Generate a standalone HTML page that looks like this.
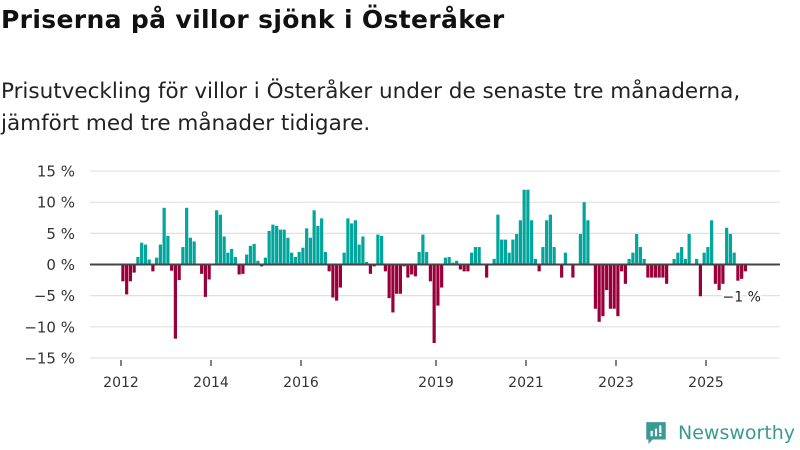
<!DOCTYPE html>
<html><head><meta charset="utf-8">
<style>
body{margin:0;width:800px;height:450px;background:#fff;font-family:"DejaVu Sans","Liberation Sans",sans-serif;overflow:hidden;position:relative}
.title{position:absolute;left:1px;top:5px;font-size:25px;font-weight:bold;color:#111;letter-spacing:0.35px}
.sub{position:absolute;left:1px;top:76px;font-size:21.5px;line-height:32px;color:#222;letter-spacing:0px}
svg{position:absolute;left:0;top:0}
</style></head><body>
<div class="title">Priserna på villor sjönk i Österåker</div>
<div class="sub">Prisutveckling för villor i Österåker under de senaste tre månaderna,<br>jämfört med tre månader tidigare.</div>
<svg id="chart" width="800" height="450"></svg>
<div style="position:absolute;left:644px;top:420px;display:flex;align-items:center;color:#3a9a92;font-size:19px">
<svg width="24" height="26" style="position:static;margin-right:10px" viewBox="0 0 22 24"><path d="M2 2h18v16H8l-4 4v-4H2z" fill="#3a9a92"/><rect x="6" y="10" width="2" height="5" fill="#fff"/><rect x="10" y="8" width="2" height="7" fill="#fff"/><rect x="14" y="5" width="2" height="7" fill="#fff"/><rect x="14" y="13" width="2" height="2" fill="#fff"/></svg>Newsworthy</div>
<script>
const values=[-2.7,-4.8,-2.7,-1.3,1.2,3.5,3.2,0.8,-1.1,1.1,3.2,9.1,4.6,-1.0,-11.9,-2.5,2.8,9.1,4.3,3.7,0,-1.5,-5.2,-2.4,0,8.7,8.0,4.5,1.9,2.5,1.2,-1.6,-1.5,1.6,3.0,3.3,0.6,-0.3,1.1,5.4,6.4,6.2,5.6,5.6,4.3,1.9,1.2,2.0,2.7,5.8,4.3,8.7,6.2,7.4,2.0,-1.1,-5.3,-5.8,-3.7,1.9,7.4,6.6,7.1,3.2,4.5,0.4,-1.5,-0.3,4.8,4.6,-1.1,-5.4,-7.7,-4.7,-4.7,-0.3,-2.1,-1.6,-1.9,2.0,4.8,2.0,-2.7,-12.6,-6.6,-3.7,1.1,1.2,0.3,0.6,-0.8,-1.1,-1.1,1.9,2.8,2.8,0,-2.1,0,0.9,8.0,4.0,4.0,1.9,4.0,4.9,7.1,12.0,12.0,7.1,0.9,-1.1,2.8,7.1,8.0,2.8,0,-2.1,1.9,0,-2.1,0,4.9,10.0,7.1,0,-7.1,-9.2,-8.3,-4.1,-7.1,-7.1,-8.3,-1.1,-3.1,0.9,1.9,4.9,2.8,0.9,-2.1,-2.1,-2.1,-2.1,-2.1,-3.1,0,0.9,1.9,2.8,0.9,4.9,0,0.9,-5.1,1.9,2.8,7.1,-3.1,-4.1,-3.1,5.9,4.9,1.9,-2.6,-2.3,-1.1];
const startYear=2012;
const yTicks=[15,10,5,0,-5,-10,-15];
const yTickLabels=["15 %","10 %","5 %","0 %","−5 %","−10 %","−15 %"];
const xTickYears=[2012,2014,2016,2019,2021,2023,2025];
const lastLabel="−1 %";
const NS="http://www.w3.org/2000/svg";
const FONT='DejaVu Sans, Liberation Sans, sans-serif';
const svg=document.getElementById('chart');
const y=v=>264.5-v*6.23;
const x=i=>121+i*3.75;
function mk(t,a){const e=document.createElementNS(NS,t);for(const k in a)e.setAttribute(k,a[k]);svg.appendChild(e);return e;}
yTicks.forEach((t,k)=>{
  if(t!==0){const g=mk('line',{x1:90,x2:780,y1:y(t),y2:y(t),stroke:'#e0e0e0','stroke-width':1.2});
  
  }
  const l=mk('text',{x:75,y:y(t)+5.5,'text-anchor':'end','font-size':15,fill:'#333','font-family':FONT});
  l.textContent=yTickLabels[k];
  
  
});
values.forEach((v,i)=>{
  const b=mk('rect',{x:x(i)+0.3,width:3.2,y:Math.min(y(v),y(0)),height:Math.abs(y(v)-y(0)),fill:v>=0?'#00a69c':'#99003b'});
  
  
});
const z=mk('line',{x1:90,x2:780,y1:y(0),y2:y(0),stroke:'#444','stroke-width':2});


xTickYears.forEach(yr=>{
  const xi=x((yr-startYear)*12);
  const t=mk('line',{x1:xi,x2:xi,y1:360,y2:366,stroke:'#555','stroke-width':1.5});
  
  
  const l=mk('text',{x:xi,y:387,'text-anchor':'middle','font-size':14,fill:'#333','font-family':FONT});
  l.textContent=yr;
  
  
});
const last=values.length-1;
const ll=mk('text',{x:x(last)-21,y:y(values[last])+30,'font-size':14,fill:'#222',stroke:'#fff','stroke-width':4,'paint-order':'stroke','font-family':FONT});
ll.textContent=lastLabel;


</script>
</body></html>
